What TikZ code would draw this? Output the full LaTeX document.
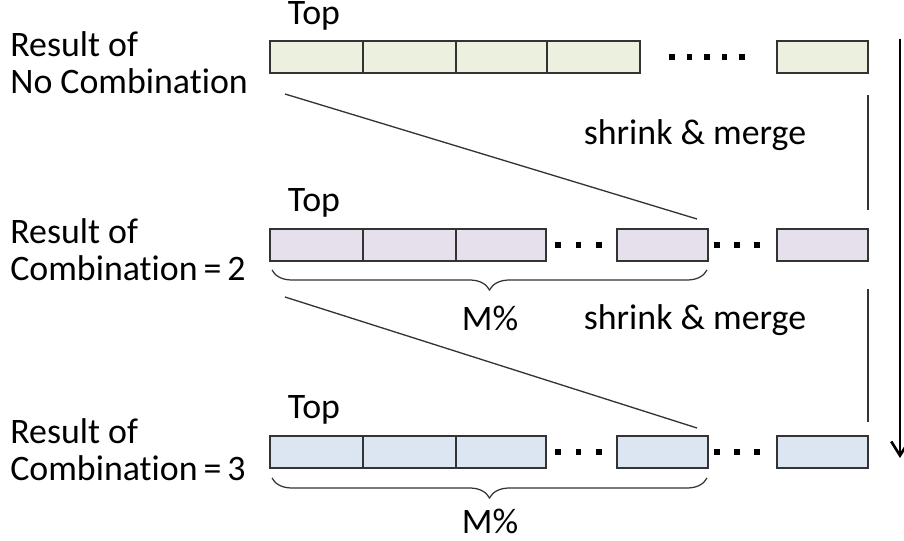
\documentclass[tikz,border=0pt]{standalone}
\usepackage{fontspec}
\setmainfont{Carlito}[Ligatures=NoCommon]
\usetikzlibrary{fit,arrows.meta,decorations.pathreplacing}
\definecolor{edgegray}{HTML}{333333}
\definecolor{rowgreen}{HTML}{EBF1DE}
\definecolor{rowlilac}{HTML}{E5E0EC}
\definecolor{rowblue}{HTML}{DCE6F2}
\tikzset{
  cell/.style={draw=edgegray, line width=1pt, inner sep=0pt, outer sep=0pt},
  green/.style={cell, fill=rowgreen},
  lilac/.style={cell, fill=rowlilac},
  blue/.style={cell, fill=rowblue},
  txt/.style={font=\fontsize{20.4pt}{21pt}\selectfont, text=black, inner sep=0pt},
  lbl/.style={txt, anchor=west, align=left},
  sqdot/.style={fill=black, minimum size=3.4pt, inner sep=0pt, outer sep=0pt},
  thinline/.style={draw=edgegray, line width=0.75pt},
  bracestyle/.style={draw=edgegray, line width=0.7pt, decorate,
    decoration={brace, mirror, amplitude=0.4cm, aspect=0.5}},
}
\begin{document}
\begin{tikzpicture}[x=0.02cm, y=-0.02cm]
\useasboundingbox (0,0) rectangle (904,541);

% ---- labels on the left
\node[lbl] (l1) at (10,63)  {Result of\\No Combination};
\node[lbl] (l2) at (10,250) {Result of\\Combination\,=\,2};
\node[lbl] (l3) at (10,450) {Result of\\Combination\,=\,3};

% ---- "Top" markers
\node[txt] (t1) at (314,16)  {Top};
\node[txt] (t2) at (314,203) {Top};
\node[txt] (t3) at (314,410) {Top};

% ---- row 1: no combination
\node[green, fit={(270,41) (363,73)}] (a1) {};
\node[green, fit={(363,41) (456,73)}] (a2) {};
\node[green, fit={(456,41) (547,73)}] (a3) {};
\node[green, fit={(547,41) (640,73)}] (a4) {};
\node[green, fit={(777,41) (868,73)}] (a5) {};
\foreach \i/\x in {1/672,2/689.5,3/707,4/724.5,5/742}
  \node[sqdot] (ad\i) at (\x,57) {};

% ---- row 2: combination = 2
\node[lilac, fit={(270,229) (363,261)}] (b1) {};
\node[lilac, fit={(363,229) (456,261)}] (b2) {};
\node[lilac, fit={(456,229) (546,261)}] (b3) {};
\node[lilac, fit={(617,229) (708,261)}] (b4) {};
\node[lilac, fit={(777,229) (868,261)}] (b5) {};
\foreach \i/\x in {1/558,2/578.5,3/599}
  \node[sqdot] (bd\i) at (\x,245) {};
\foreach \i/\x in {4/717,5/737,6/757}
  \node[sqdot] (bd\i) at (\x,245) {};

% ---- row 3: combination = 3
\node[blue, fit={(270,436) (363,468)}] (c1) {};
\node[blue, fit={(363,436) (456,468)}] (c2) {};
\node[blue, fit={(456,436) (546,468)}] (c3) {};
\node[blue, fit={(617,436) (708,468)}] (c4) {};
\node[blue, fit={(777,436) (868,468)}] (c5) {};
\foreach \i/\x in {1/558,2/578.5,3/599}
  \node[sqdot] (cd\i) at (\x,452) {};
\foreach \i/\x in {4/717,5/737,6/757}
  \node[sqdot] (cd\i) at (\x,452) {};

% ---- braces and their labels
\draw[bracestyle] (272,270) -- (707,270);
\node[txt] (m2) at (490,318) {M\%};
\draw[bracestyle] (272,478) -- (707,478);
\node[txt] (m3) at (490,521) {M\%};

% ---- shrink & merge steps
\node[txt] (s1) at (695,135) {shrink \& merge};
\node[txt] (s2) at (695,320) {shrink \& merge};

% ---- slanted guide lines
\coordinate (g1a) at (285,94);
\coordinate (g1b) at (697,219);
\coordinate (g2a) at (285,297);
\coordinate (g2b) at (697,428);
\draw[thinline] (g1a) -- (g1b);
\draw[thinline] (g2a) -- (g2b);

% ---- vertical links between the last cells
\coordinate (v1a) at (868,95);
\coordinate (v1b) at (868,210);
\coordinate (v2a) at (868,289);
\coordinate (v2b) at (868,422);
\draw[thinline] (v1a) -- (v1b);
\draw[thinline] (v2a) -- (v2b);

% ---- overall direction arrow
\coordinate (arrA) at (900,39);
\coordinate (arrB) at (900,458);
\draw[draw=black, line width=1.5pt, -{Straight Barb[length=8pt, width=10pt, line width=1.5pt]}] (arrA) -- (arrB);
\end{tikzpicture}
\end{document}
